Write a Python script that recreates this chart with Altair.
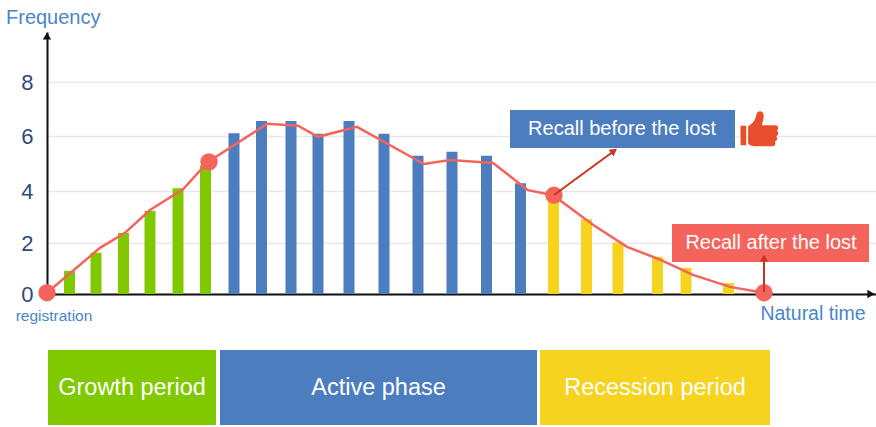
import altair as alt
import pandas as pd

# Time positions and heights of the bars, one list per phase
growth_t = [22.5, 49, 76.5, 103, 131, 158.5]
growth_v = [0.91, 1.62, 2.39, 3.24, 4.10, 4.94]
active_t = [187, 214.5, 244, 271, 302, 337, 371, 405, 439.5, 473.5]
active_v = [6.10, 6.56, 6.56, 6.08, 6.56, 6.08, 5.28, 5.43, 5.28, 4.28]
recession_t = [506.5, 539.5, 571, 610.5, 639, 681.5]
recession_v = [3.70, 2.92, 2.02, 1.46, 1.03, 0.43]

# Smoothed trend line over the bars
trend_t = [0, 53, 78, 103, 136, 161, 220, 251, 271, 310, 377, 403, 446, 481, 506, 546, 580, 613, 646, 683, 717]
trend_v = [0.05, 1.81, 2.39, 3.27, 4.06, 5.06, 6.45, 6.38, 5.97, 6.34, 4.98, 5.13, 5.02, 4.03, 3.84, 2.70, 1.85, 1.35, 0.75, 0.28, 0.05]

# Highlighted moments in the life cycle
marker_t = [0, 162, 507, 717]
marker_v = [0.05, 5.06, 3.84, 0.05]

y_ticks = [0, 2, 4, 6, 8]
phases = ["Growth period", "Active phase", "Recession period"]
phase_start = [1, 173, 493]
phase_end = [169, 490, 723]
phase_colors = ["#80C800", "#4C7DBF", "#F5D31F"]

BLUE_TEXT = "#4A86C8"
RED = "#F4645C"
ARROW = "#C9341F"
THUMB = ("M-1,-0.22 H-0.7 V0.8 H-1 Z "
         "M-0.6,-0.2 C-0.3,-0.35 -0.2,-0.6 -0.15,-0.85 C-0.1,-1.05 0.2,-1.05 0.22,-0.8 "
         "C0.24,-0.6 0.15,-0.4 0.12,-0.25 H0.85 C1.02,-0.25 1.02,0 0.9,0.03 "
         "C1.02,0.08 1.02,0.3 0.87,0.33 C0.97,0.38 0.97,0.58 0.8,0.6 "
         "C0.88,0.66 0.84,0.85 0.7,0.85 H-0.3 C-0.45,0.85 -0.6,0.75 -0.6,0.7 Z")

PLOT_LEFT, PLOT_TOP, PLOT_W, PLOT_H = 47, 32, 829, 262

x_scale = alt.Scale(domain=[0, PLOT_W], range=[0, PLOT_W], nice=False, zero=False, padding=0)
y_scale = alt.Scale(domain=[0, 2, 4, 6, 8, 9.9], range=[PLOT_H, 211, 159, 104, 50, 0], nice=False, zero=False, padding=0)

bars = pd.DataFrame({
    "t": growth_t + active_t + recession_t,
    "v": growth_v + active_v + recession_v,
    "phase": [phases[0]] * len(growth_t) + [phases[1]] * len(active_t) + [phases[2]] * len(recession_t),
})
trend = pd.DataFrame({"t": trend_t, "v": trend_v})
markers = pd.DataFrame({"t": marker_t, "v": marker_v})
spans = pd.DataFrame({"phase": phases, "start": phase_start, "end": phase_end})

color = alt.Color("phase:N", scale=alt.Scale(domain=phases, range=phase_colors), legend=None)

axes = alt.Chart(trend).mark_point(opacity=0).encode(
    x=alt.X("t:Q", scale=x_scale, axis=alt.Axis(
        title=None, labels=False, ticks=False, grid=False,
        domainColor="#111111", domainWidth=2)),
    y=alt.Y("v:Q", scale=y_scale, axis=alt.Axis(
        title=None, values=y_ticks, ticks=False, grid=True, gridColor="#E8E8E8", gridWidth=1.5,
        domainColor="#111111", domainWidth=2, labelColor="#2F4A78", labelFontSize=22,
        labelFont="Liberation Sans", labelPadding=14, labelFontWeight="normal")),
)

bar_layer = alt.Chart(bars).mark_bar(size=11).encode(x=alt.X("t:Q", scale=x_scale), y=alt.Y("v:Q", scale=y_scale), color=color)
line_layer = alt.Chart(trend).mark_line(color=RED, strokeWidth=2.5).encode(x=alt.X("t:Q", scale=x_scale), y=alt.Y("v:Q", scale=y_scale))
dot_layer = alt.Chart(markers).mark_circle(color=RED, size=300, opacity=1).encode(x=alt.X("t:Q", scale=x_scale), y=alt.Y("v:Q", scale=y_scale))

phase_boxes = alt.Chart(spans).mark_rect().encode(
    x=alt.X("start:Q", scale=x_scale), x2="end:Q",
    y=alt.value(350 - PLOT_TOP), y2=alt.value(425 - PLOT_TOP), color=color)
phase_text = alt.Chart(spans).transform_calculate(mid="(datum.start + datum.end) / 2").mark_text(
    color="white", fontSize=23.5, font="Liberation Sans").encode(
    x=alt.X("mid:Q", scale=x_scale), y=alt.value(388 - PLOT_TOP), text="phase:N")


def px_x(v):
    return alt.value(v - PLOT_LEFT)


def px_y(v):
    return alt.value(v - PLOT_TOP)


def one_row():
    return alt.Chart(pd.DataFrame({"k": [0]}))


def label(text, x, y, size, color_, align="center"):
    return one_row().mark_text(text=text, color=color_, fontSize=size, font="Liberation Sans", align=align).encode(x=px_x(x), y=px_y(y))


def box(x0, x1, y0, y1, fill):
    return one_row().mark_rect(color=fill).encode(x=px_x(x0), x2=px_x(x1), y=px_y(y0), y2=px_y(y1))


def arrow(x0, y0, x1, y1, heading):
    shaft = one_row().mark_rule(color=ARROW, strokeWidth=2).encode(x=px_x(x0), x2=px_x(x1), y=px_y(y0), y2=px_y(y1))
    head = one_row().mark_point(shape="triangle-up", filled=True, color=ARROW, size=70, angle=heading, opacity=1).encode(x=px_x(x1), y=px_y(y1))
    return shaft + head


decor = [
    # Axis arrowheads
    one_row().mark_point(shape="triangle-up", filled=True, color="#111111", size=70, opacity=1).encode(x=px_x(47), y=px_y(36)),
    one_row().mark_point(shape="triangle-right", filled=True, color="#111111", size=70, opacity=1).encode(x=px_x(871), y=px_y(294)),
    label("Frequency", 6, 18, 20, BLUE_TEXT, "left"),
    label("registration", 54, 316, 15.5, BLUE_TEXT),
    label("Natural time", 813, 314, 19.5, BLUE_TEXT),
    # Callouts
    box(510, 735, 110, 148, "#4C7DBF"),
    label("Recall before the lost", 622, 129, 20, "white"),
    box(672, 869, 224, 262, RED),
    label("Recall after the lost", 771, 243, 20, "white"),
    arrow(554, 195, 614, 151, 53),
    arrow(764, 292, 764, 258, 0),
    one_row().mark_point(shape=THUMB, filled=True, color="#E84E2C", size=1440, opacity=1, strokeWidth=0).encode(x=px_x(759.5), y=px_y(130)),
]

chart = alt.layer(axes, phase_boxes, phase_text, bar_layer, line_layer, dot_layer, *decor).resolve_scale(
    color="shared"
).properties(
    width=PLOT_W, height=PLOT_H, background="white",
    autosize=alt.AutoSizeParams(type="none"),
    padding={"left": PLOT_LEFT, "top": PLOT_TOP, "right": 0, "bottom": 133},
).configure_view(stroke=None)

chart.save("out.html", embed_options={"renderer": "svg", "actions": False})
